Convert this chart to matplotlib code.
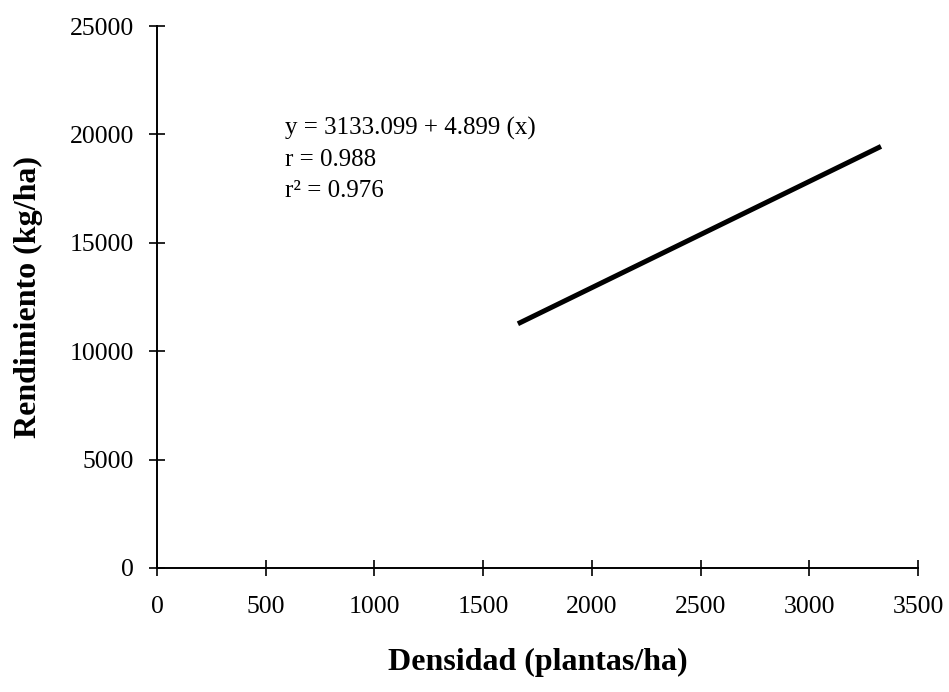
import numpy as np
import matplotlib.pyplot as plt

plt.rcParams['font.family'] = 'Liberation Serif'

# recta de regresion: rendimiento vs densidad
a = 3133.099
b = 4.899
x_range = [1660, 3330]
xticks = [0, 500, 1000, 1500, 2000, 2500, 3000, 3500]
yticks = [0, 5000, 10000, 15000, 20000, 25000]

x = np.array(x_range)
y = a + b * x

fig = plt.figure(figsize=(9.49, 6.92), dpi=100)
ax = fig.add_axes([0.1654, 0.1792, 0.8019, 0.7832])
ax.plot(x, y, color='black', lw=3.6, solid_capstyle='butt')

ax.set_xlim(0, 3500)
ax.set_ylim(0, 25000)
ax.set_xticks(xticks)
ax.set_yticks(yticks)
ax.tick_params(direction='inout', length=11, width=1.2, labelsize=18.5)
ax.tick_params(axis='x', pad=15)
ax.tick_params(axis='y', pad=11)
for s in ['top', 'right']:
    ax.spines[s].set_visible(False)
for s in ['left', 'bottom']:
    ax.spines[s].set_linewidth(1.4)

ax.text(589, 18850, 'y = 3133.099 + 4.899 (x)\nr = 0.988\nr² = 0.976',
        fontsize=18, va='center', ha='left', linespacing=1.55)

ax.set_xlabel('Densidad (plantas/ha)', fontsize=23, fontweight='bold')
ax.set_ylabel('Rendimiento (kg/ha)', fontsize=23, fontweight='bold')
ax.xaxis.set_label_coords(0.5, -0.148)
ax.yaxis.set_label_coords(-0.15, 0.5)

plt.savefig('out.png', dpi=100)
